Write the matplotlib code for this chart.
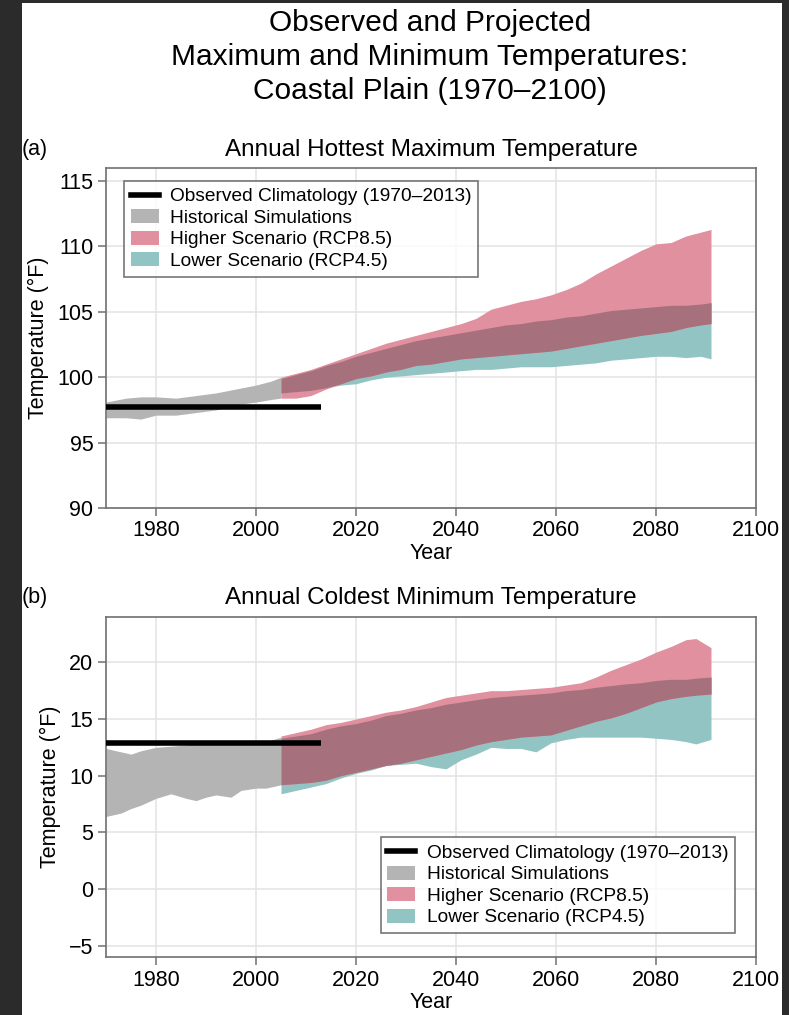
import numpy as np
import matplotlib
matplotlib.use('Agg')
import matplotlib.pyplot as plt
from matplotlib.patches import Patch, Rectangle
from matplotlib.lines import Line2D

plt.rcParams['font.family'] = ['Liberation Sans', 'DejaVu Sans']

# --- dane: panel (a) najwyższa temperatura maksymalna ---
hist_years_a = [1970, 1974, 1977, 1980, 1984, 1988, 1992, 1996, 2000, 2003, 2005]
hist_lo_a = [96.9, 96.9, 96.8, 97.1, 97.1, 97.3, 97.5, 97.9, 98.1, 98.3, 98.4]
hist_hi_a = [98.1, 98.4, 98.5, 98.5, 98.4, 98.6, 98.8, 99.1, 99.4, 99.7, 100.0]

proj_years_a = [2005, 2008, 2011, 2014, 2017, 2020, 2023, 2026, 2029, 2032, 2035, 2038,
                2041, 2044, 2047, 2050, 2053, 2056, 2059, 2062, 2065, 2068, 2071, 2074,
                2077, 2080, 2083, 2086, 2089, 2091]
rcp85_lo_a = [98.4, 98.4, 98.6, 99.1, 99.5, 99.9, 100.1, 100.4, 100.6, 100.9, 101.0, 101.2,
              101.4, 101.5, 101.6, 101.7, 101.8, 101.9, 102.0, 102.2, 102.4, 102.6, 102.8, 103.0,
              103.2, 103.35, 103.5, 103.8, 104.0, 104.1]
rcp85_hi_a = [100.0, 100.3, 100.6, 101.0, 101.4, 101.8, 102.2, 102.6, 102.9, 103.2, 103.5, 103.8,
              104.1, 104.5, 105.2, 105.5, 105.8, 106.0, 106.3, 106.7, 107.2, 107.9, 108.5, 109.1,
              109.7, 110.2, 110.3, 110.8, 111.1, 111.3]
rcp45_lo_a = [98.8, 98.9, 99.0, 99.2, 99.4, 99.5, 99.8, 100.0, 100.1, 100.2, 100.3, 100.4,
              100.5, 100.6, 100.6, 100.7, 100.8, 100.8, 100.8, 100.9, 101.0, 101.1, 101.3, 101.4,
              101.5, 101.6, 101.6, 101.5, 101.6, 101.4]
rcp45_hi_a = [99.9, 100.2, 100.5, 100.9, 101.2, 101.6, 101.9, 102.2, 102.5, 102.8, 103.0, 103.2,
              103.4, 103.6, 103.8, 104.0, 104.1, 104.3, 104.4, 104.6, 104.7, 104.9, 105.1, 105.2,
              105.3, 105.4, 105.5, 105.5, 105.6, 105.7]
obs_a = 97.7

# --- dane: panel (b) najniższa temperatura minimalna ---
hist_years_b = [1970, 1973, 1975, 1977, 1980, 1983, 1986, 1988, 1990, 1992, 1995, 1997, 2000, 2002, 2005]
hist_lo_b = [6.4, 6.7, 7.1, 7.4, 8.0, 8.4, 8.0, 7.8, 8.1, 8.3, 8.1, 8.7, 8.9, 8.9, 9.2]
hist_hi_b = [12.4, 12.1, 11.9, 12.2, 12.5, 12.6, 12.7, 13.1, 12.9, 12.9, 12.9, 12.9, 12.9, 13.0, 13.4]

proj_years_b = [2005, 2008, 2011, 2014, 2017, 2020, 2023, 2026, 2029, 2032, 2035, 2038,
                2041, 2044, 2047, 2050, 2053, 2056, 2059, 2062, 2065, 2068, 2071, 2074,
                2077, 2080, 2083, 2086, 2088, 2091]
rcp85_lo_b = [9.2, 9.3, 9.4, 9.6, 10.0, 10.3, 10.6, 10.9, 11.1, 11.4, 11.7, 12.0,
              12.3, 12.7, 13.0, 13.2, 13.4, 13.5, 13.6, 14.0, 14.4, 14.8, 15.1, 15.5,
              16.0, 16.5, 16.8, 17.0, 17.1, 17.2]
rcp85_hi_b = [13.5, 13.8, 14.1, 14.5, 14.7, 15.0, 15.3, 15.6, 15.8, 16.1, 16.5, 16.9,
              17.1, 17.3, 17.5, 17.5, 17.6, 17.7, 17.8, 18.0, 18.2, 18.7, 19.3, 19.8,
              20.3, 20.9, 21.4, 22.0, 22.1, 21.3]
rcp45_lo_b = [8.4, 8.7, 9.0, 9.3, 9.8, 10.2, 10.5, 10.9, 11.0, 11.1, 10.8, 10.6,
              11.4, 11.9, 12.5, 12.4, 12.4, 12.1, 12.9, 13.2, 13.4, 13.4, 13.4, 13.4,
              13.4, 13.3, 13.2, 13.0, 12.8, 13.2]
rcp45_hi_b = [13.3, 13.5, 13.7, 14.1, 14.4, 14.6, 14.9, 15.3, 15.5, 15.8, 16.0, 16.3,
              16.5, 16.7, 16.9, 17.0, 17.1, 17.2, 17.3, 17.5, 17.6, 17.8, 17.95, 18.1,
              18.2, 18.4, 18.5, 18.5, 18.6, 18.7]
obs_b = 12.9

obs_years = [1970, 2013]
year_ticks = [1980, 2000, 2020, 2040, 2060, 2080, 2100]

c_hist = '#b4b4b4'
c_85 = '#e0909f'
c_45 = '#92c4c3'
c_both = '#a6707c'
c_grid = '#e3e3e3'
c_spine = '#707070'

W, H = 789, 1015
fig = plt.figure(figsize=(W / 100, H / 100), dpi=100, facecolor='#2b2b2b')
fig.patches.append(Rectangle((22 / W, 0), (782 - 22) / W, 1 - 3 / H, transform=fig.transFigure,
                             facecolor='white', edgecolor='none', zorder=-5))

fig.text(430 / W, 1 - 57 / H,
         'Observed and Projected\nMaximum and Minimum Temperatures:\nCoastal Plain (1970\u20132100)',
         ha='center', va='center', fontsize=21.5, linespacing=1.28)


def panel(ax, hy, hlo, hhi, py, lo85, hi85, lo45, hi45, obs, ylim, yticks):
    ax.fill_between(hy, hlo, hhi, color=c_hist, lw=0, zorder=2)
    ax.fill_between(py, lo45, hi45, color=c_45, lw=0, zorder=3)
    ax.fill_between(py, lo85, hi85, color=c_85, lw=0, zorder=4)
    lo = np.maximum(lo85, lo45)
    hi = np.minimum(hi85, hi45)
    ax.fill_between(py, lo, hi, where=lo < hi, interpolate=True, color=c_both, lw=0, zorder=5)
    ax.plot(obs_years, [obs, obs], color='black', lw=4, solid_capstyle='butt', zorder=6)
    ax.set_xlim(1970, 2100)
    ax.set_ylim(*ylim)
    ax.set_xticks(year_ticks)
    ax.set_yticks(yticks)
    ax.grid(True, color=c_grid, lw=1.1, zorder=0)
    ax.set_axisbelow(True)
    for s in ax.spines.values():
        s.set_color(c_spine)
        s.set_linewidth(1.2)
    ax.tick_params(direction='out', length=6, width=1.1, color=c_spine, labelsize=15.5, pad=3)
    ax.set_xlabel('Year', fontsize=15.5, labelpad=1)
    ax.set_ylabel('Temperature (\u00b0F)', fontsize=15.5, labelpad=6)


handles = [Line2D([], [], color='black', lw=4),
           Patch(facecolor=c_hist, edgecolor='none'),
           Patch(facecolor=c_85, edgecolor='none'),
           Patch(facecolor=c_45, edgecolor='none')]
labels = ['Observed Climatology (1970\u20132013)', 'Historical Simulations',
          'Higher Scenario (RCP8.5)', 'Lower Scenario (RCP4.5)']

ax1 = fig.add_axes([106 / W, 1 - 508 / H, 650 / W, 340 / H])
panel(ax1, hist_years_a, hist_lo_a, hist_hi_a, proj_years_a, rcp85_lo_a, rcp85_hi_a,
      rcp45_lo_a, rcp45_hi_a, obs_a, (90, 116), [90, 95, 100, 105, 110, 115])
ax1.text(0.5, 1 + 18 / 340, 'Annual Hottest Maximum Temperature', transform=ax1.transAxes,
         ha='center', va='center', fontsize=17.5)
fig.text(22 / W, 1 - 150 / H, '(a)', ha='left', va='center', fontsize=15.5)
leg1 = ax1.legend(handles, labels, loc='upper left', bbox_to_anchor=(18 / 650, 1 - 13 / 340),
                  borderaxespad=0, fontsize=13.8, frameon=True, fancybox=False,
                  handlelength=1.45, handleheight=0.75, handletextpad=0.6, labelspacing=0.2,
                  borderpad=0.35)
leg1.get_frame().set_edgecolor('#555555')
leg1.get_frame().set_linewidth(1.2)
leg1.set_zorder(10)

ax2 = fig.add_axes([106 / W, 1 - 957 / H, 650 / W, 340 / H])
panel(ax2, hist_years_b, hist_lo_b, hist_hi_b, proj_years_b, rcp85_lo_b, rcp85_hi_b,
      rcp45_lo_b, rcp45_hi_b, obs_b, (-6, 24), [-5, 0, 5, 10, 15, 20])
ax2.text(0.5, 1 + 19 / 340, 'Annual Coldest Minimum Temperature', transform=ax2.transAxes,
         ha='center', va='center', fontsize=17.5)
fig.text(22 / W, 1 - 597 / H, '(b)', ha='left', va='center', fontsize=15.5)
leg2 = ax2.legend(handles, labels, loc='lower right', bbox_to_anchor=(1 - 21 / 650, 24 / 340),
                  borderaxespad=0, fontsize=13.8, frameon=True, fancybox=False,
                  handlelength=1.45, handleheight=0.75, handletextpad=0.6, labelspacing=0.2,
                  borderpad=0.35)
leg2.get_frame().set_edgecolor('#555555')
leg2.get_frame().set_linewidth(1.2)
leg2.set_zorder(10)

fig.savefig('out.png', dpi=100, facecolor=fig.get_facecolor())
